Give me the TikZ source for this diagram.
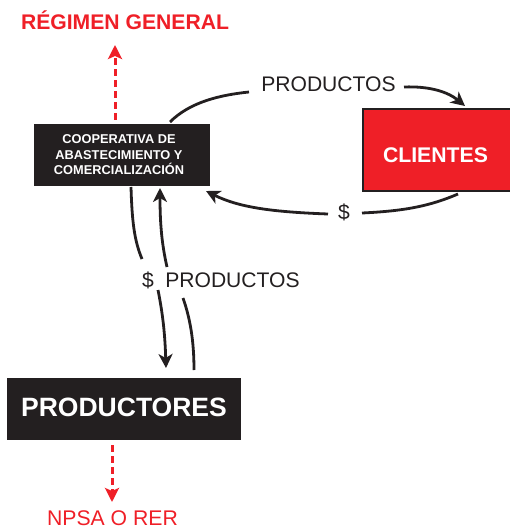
\documentclass[tikz,border=0pt]{standalone}
\usepackage{fontspec}
\setmainfont{Liberation Sans}
\usetikzlibrary{arrows.meta}
\definecolor{ink}{HTML}{231F20}
\definecolor{redc}{HTML}{EF1F27}
\tikzset{
  blackbox/.style={fill=ink,text=white,inner sep=0pt,font=\bfseries},
  lab/.style={text=ink,inner sep=0pt},
  flow/.style={draw=ink,line width=2.8pt},
  flowtip/.style={flow,-{Stealth[length=14pt,width=14pt,inset=4pt]}},
  redflow/.style={draw=redc,line width=3pt,dash pattern=on 7pt off 4pt,-{Stealth[length=14pt,width=14pt,inset=3pt]}},
}
\begin{document}
\begin{tikzpicture}[x=1pt,y=-1pt]
\useasboundingbox (0,0) rectangle (509,529);
% boxes
\node[blackbox,minimum width=176pt,minimum height=62pt,align=center,font=\bfseries\fontsize{12.8}{15.5}\selectfont] (coop) at (122,155) {\kern-6pt COOPERATIVA DE\\\kern-6pt ABASTECIMIENTO Y\\\kern-6pt COMERCIALIZACIÓN};
\node[blackbox,minimum width=234pt,minimum height=62pt,font=\bfseries\fontsize{26.5}{30}\selectfont] (prod) at (124,409) {\raisebox{-7pt}[0pt][0pt]{PRODUCTORES}};
\node[fill=redc,draw=ink,line width=2.4pt,text=white,inner sep=0pt,minimum width=152pt,minimum height=82pt,font=\bfseries\fontsize{21.2}{25}\selectfont] (cli) at (439,150) {\kern-7pt\raisebox{-13pt}[0pt][0pt]{CLIENTES}};
% labels
\node[inner sep=0pt,text=redc,font=\bfseries\fontsize{21.15}{25}\selectfont] (rg) at (125,20.5) {RÉGIMEN GENERAL};
\node[inner sep=0pt,text=redc,font=\fontsize{21.2}{25}\selectfont] (npsa) at (112.5,518) {NPSA O RER};
\node[lab,font=\fontsize{21.1}{25}\selectfont] (ptop) at (328.5,84.5) {PRODUCTOS};
\node[lab,font=\fontsize{21.1}{25}\selectfont] (pmid) at (232.5,280.5) {PRODUCTOS};
\node[lab,font=\fontsize{21.1}{25}\selectfont] (dright) at (344,212) {\$};
\node[lab,font=\fontsize{21.1}{25}\selectfont] (dmid) at (148,280) {\$};
% connector ends
\coordinate (a1) at (170,122);  \coordinate (a2) at (249,92);
\coordinate (b1) at (404,87);   \coordinate (b2) at (465,106);
\coordinate (c1) at (458,194);  \coordinate (c2) at (362,213);
\coordinate (d1) at (328,214);  \coordinate (d2) at (206,191);
\coordinate (e1) at (131,187);  \coordinate (e2) at (142,259);
\coordinate (f1) at (158,290);  \coordinate (f2) at (166,368);
\coordinate (g1) at (194,370);  \coordinate (g2) at (183,298);
\coordinate (h1) at (167,267);  \coordinate (h2) at (160,188);
\coordinate (r1) at (115,120);  \coordinate (r2) at (115,45);
\coordinate (s1) at (112,445);  \coordinate (s2) at (112,502);
% connectors
\draw[flow] (a1) .. controls (190,102) and (220,95) .. (a2);
\draw[flowtip] (b1) .. controls (430,86) and (448,92) .. (b2);
\draw[flow] (c1) .. controls (430,206) and (405,211) .. (c2);
\draw[flowtip] (d1) .. controls (275,212) and (240,208) .. (d2);
\draw[flow] (e1) .. controls (132,220) and (134,240) .. (e2);
\draw[flowtip] (f1) .. controls (163,315) and (165,335) .. (f2);
\draw[flow] (g1) .. controls (194,340) and (190,318) .. (g2);
\draw[flowtip] (h1) .. controls (162,245) and (160,225) .. (h2);
\draw[redflow] (r1) -- (r2);
\draw[redflow] (s1) -- (s2);
\end{tikzpicture}
\end{document}
